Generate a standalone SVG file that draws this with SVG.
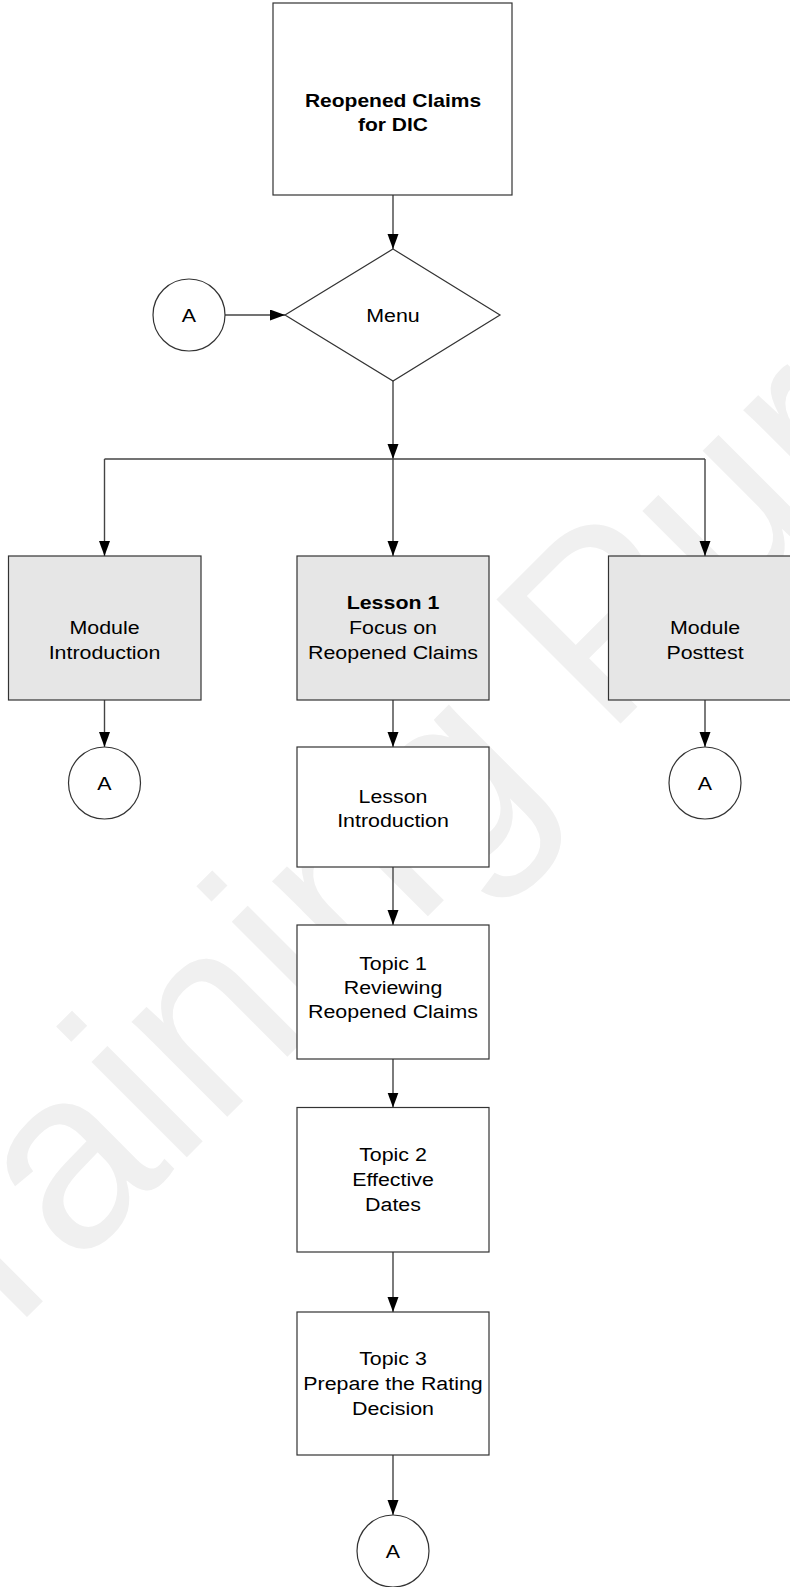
<svg xmlns="http://www.w3.org/2000/svg" width="790" height="1587" viewBox="0 0 790 1587">
<defs>
<marker id="arr" markerWidth="16" markerHeight="12" refX="15" refY="5.5" orient="auto" markerUnits="userSpaceOnUse">
<path d="M0,0 L15,5.5 L0,11 Z" fill="#000"/>
</marker>
<style>
.box{fill:#fff;stroke:#333;stroke-width:1.2}
.gray{fill:#e6e6e6;stroke:#333;stroke-width:1.2}
.con{stroke:#444;stroke-width:1.4;fill:none}
.t{font-family:"Liberation Sans",Arial,sans-serif;font-size:18.6px;fill:#000;text-anchor:middle}
.b{font-weight:bold}
.wm{font-family:"Liberation Sans",Arial,sans-serif;font-size:255px;fill:#f0f0f0}
</style>
</defs>
<rect width="790" height="1587" fill="#fff"/>
<g id="watermark">
<text class="wm" transform="translate(-89,1433) rotate(-45)">Training Purposes</text>
</g>
<g id="connectors">
<line class="con" x1="393" y1="195" x2="393" y2="249" marker-end="url(#arr)"/>
<line class="con" x1="225" y1="315" x2="285" y2="315" marker-end="url(#arr)"/>
<line class="con" x1="393" y1="381" x2="393" y2="459" marker-end="url(#arr)"/>
<line class="con" x1="104.5" y1="459" x2="705" y2="459"/>
<line class="con" x1="104.5" y1="459" x2="104.5" y2="556" marker-end="url(#arr)"/>
<line class="con" x1="393" y1="459" x2="393" y2="556" marker-end="url(#arr)"/>
<line class="con" x1="705" y1="459" x2="705" y2="556" marker-end="url(#arr)"/>
<line class="con" x1="104.5" y1="700" x2="104.5" y2="747" marker-end="url(#arr)"/>
<line class="con" x1="705" y1="700" x2="705" y2="747" marker-end="url(#arr)"/>
<line class="con" x1="393" y1="700" x2="393" y2="747" marker-end="url(#arr)"/>
<line class="con" x1="393" y1="867" x2="393" y2="925" marker-end="url(#arr)"/>
<line class="con" x1="393" y1="1059" x2="393" y2="1107.5" marker-end="url(#arr)"/>
<line class="con" x1="393" y1="1252" x2="393" y2="1312" marker-end="url(#arr)"/>
<line class="con" x1="393" y1="1455" x2="393" y2="1515" marker-end="url(#arr)"/>
</g>
<g id="n-title">
<rect class="box" x="273" y="3" width="239" height="192"/>
<g transform="translate(393,0) scale(1.13,1)"><text class="t b" x="0" y="107">Reopened Claims</text><text class="t b" x="0" y="131">for DIC</text></g>
</g>
<g id="n-menu">
<polygon class="box" points="393,249 500,315 393,381 285,315"/>
<g transform="translate(393,0) scale(1.15,1)"><text class="t" x="0" y="322">Menu</text></g>
</g>
<g id="n-a-top">
<circle class="box" cx="189" cy="315" r="36"/>
<g transform="translate(189,0) scale(1.15,1)"><text class="t" x="0" y="322">A</text></g>
</g>
<g id="n-modintro">
<rect class="gray" x="8.5" y="556" width="192.5" height="144"/>
<g transform="translate(104.5,0) scale(1.15,1)"><text class="t" x="0" y="634">Module</text><text class="t" x="0" y="659">Introduction</text></g>
</g>
<g id="n-lesson1">
<rect class="gray" x="297" y="556" width="192" height="144"/>
<g transform="translate(393,0) scale(1.15,1)"><text class="t b" x="0" y="609">Lesson 1</text><text class="t" x="0" y="634">Focus on</text><text class="t" x="0" y="659">Reopened Claims</text></g>
</g>
<g id="n-posttest">
<rect class="gray" x="608.5" y="556" width="193" height="144"/>
<g transform="translate(705,0) scale(1.15,1)"><text class="t" x="0" y="634">Module</text><text class="t" x="0" y="659">Posttest</text></g>
</g>
<g id="n-a-left">
<circle class="box" cx="104.5" cy="783" r="36"/>
<g transform="translate(104.5,0) scale(1.15,1)"><text class="t" x="0" y="790">A</text></g>
</g>
<g id="n-a-right">
<circle class="box" cx="705" cy="783" r="36"/>
<g transform="translate(705,0) scale(1.15,1)"><text class="t" x="0" y="790">A</text></g>
</g>
<g id="n-lessonintro">
<rect class="box" x="297" y="747" width="192" height="120"/>
<g transform="translate(393,0) scale(1.15,1)"><text class="t" x="0" y="803">Lesson</text><text class="t" x="0" y="827">Introduction</text></g>
</g>
<g id="n-topic1">
<rect class="box" x="297" y="925" width="192" height="134"/>
<g transform="translate(393,0) scale(1.15,1)"><text class="t" x="0" y="970">Topic 1</text><text class="t" x="0" y="994">Reviewing</text><text class="t" x="0" y="1018">Reopened Claims</text></g>
</g>
<g id="n-topic2">
<rect class="box" x="297" y="1107.5" width="192" height="144.5"/>
<g transform="translate(393,0) scale(1.15,1)"><text class="t" x="0" y="1161">Topic 2</text><text class="t" x="0" y="1186">Effective</text><text class="t" x="0" y="1211">Dates</text></g>
</g>
<g id="n-topic3">
<rect class="box" x="297" y="1312" width="192" height="143"/>
<g transform="translate(393,0) scale(1.15,1)"><text class="t" x="0" y="1365">Topic 3</text><text class="t" x="0" y="1390">Prepare the Rating</text><text class="t" x="0" y="1415">Decision</text></g>
</g>
<g id="n-a-bottom">
<circle class="box" cx="393" cy="1551" r="36"/>
<g transform="translate(393,0) scale(1.15,1)"><text class="t" x="0" y="1558">A</text></g>
</g>
</svg>
